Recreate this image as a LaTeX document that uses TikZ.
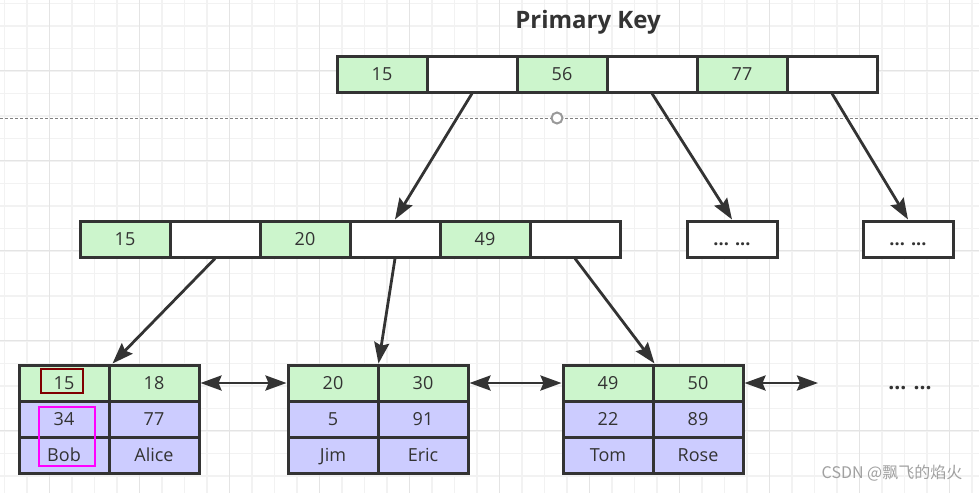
\documentclass[tikz,border=0pt]{standalone}
\usepackage{fontspec}
\setmainfont{Open Sans}
\newfontfamily\cjkfont{Noto Sans CJK SC}
\usetikzlibrary{arrows.meta,calc}
\definecolor{keygreen}{HTML}{CCF5CC}
\definecolor{rowblue}{HTML}{CCCCFF}
\definecolor{ink}{HTML}{333333}
\definecolor{gridminor}{HTML}{F2F2F2}
\definecolor{gridmajor}{HTML}{E4E4E4}
\definecolor{darkred}{HTML}{800000}
\definecolor{hlmagenta}{HTML}{FF00FF}
\definecolor{wmark}{HTML}{A0A0A0}
\begin{document}
\begin{tikzpicture}[x=1pt,y=-1pt,
  cell/.style={draw=ink,line width=3pt,minimum width=90pt,minimum height=36pt,inner sep=0pt,
    text height=14pt,text depth=2pt,
    font=\fontsize{18}{20}\selectfont,text=ink},
  keycell/.style={cell,fill=keygreen},
  ptrcell/.style={cell,fill=white},
  rowcell/.style={cell,fill=rowblue},
  tip/.tip={Stealth[length=21pt,width=15pt,inset=3pt]},
  arr/.style={draw=ink,line width=2.8pt,-tip},
  link/.style={draw=ink,line width=2.8pt,tip-tip},
  dots/.style={font=\fontsize{21}{23}\selectfont\bfseries,text=ink,inner sep=0pt},
]
\useasboundingbox (0,0) rectangle (979,493);
\fill[white] (0,0) rectangle (979,493);
% background grid
\foreach \x in {4.7,27.2,...,979} \draw[gridminor,line width=1.5pt] (\x,0) -- (\x,493);
\foreach \y in {3.3,25.8,...,493} \draw[gridminor,line width=1.5pt] (0,\y) -- (979,\y);
\foreach \x in {49.7,139.7,...,979} \draw[gridmajor,line width=1.5pt] (\x,0) -- (\x,493);
\foreach \y in {70.3,160.3,...,493} \draw[gridmajor,line width=1.5pt] (0,\y) -- (979,\y);
% editor guide
\draw[gray,line width=1pt,dash pattern=on 3pt off 2pt] (0,118) -- (979,118);
\draw[gray!80,line width=2pt,fill=white] (557,118) circle (5.5);

% title
\node[font=\fontsize{24}{26}\selectfont\bfseries,text=ink] (title) at (588,22) {Primary Key};

% root
\node[keycell] (r1) at (382,74) {15};
\node[ptrcell] (r2) at (472,74) {};
\node[keycell] (r3) at (562,74) {56};
\node[ptrcell] (r4) at (652,74) {};
\node[keycell] (r5) at (742,74) {77};
\node[ptrcell] (r6) at (832,74) {};

% middle level
\node[keycell] (m1) at (125,239) {15};
\node[ptrcell] (m2) at (215,239) {};
\node[keycell] (m3) at (305,239) {20};
\node[ptrcell] (m4) at (395,239) {};
\node[keycell] (m5) at (485,239) {49};
\node[ptrcell] (m6) at (575,239) {};
\node[ptrcell] (d1) at (732,239) {\textbf{... ...}};
\node[ptrcell] (d2) at (908,239) {\textbf{... ...}};

% leaves
\node[keycell] (a11) at (64,383) {15};
\node[keycell] (a12) at (154,383) {18};
\node[rowcell] (a21) at (64,419) {34};
\node[rowcell] (a22) at (154,419) {77};
\node[rowcell] (a31) at (64,455) {Bob};
\node[rowcell] (a32) at (154,455) {Alice};

\node[keycell] (b11) at (333,383) {20};
\node[keycell] (b12) at (423,383) {30};
\node[rowcell] (b21) at (333,419) {5};
\node[rowcell] (b22) at (423,419) {91};
\node[rowcell] (b31) at (333,455) {Jim};
\node[rowcell] (b32) at (423,455) {Eric};

\node[keycell] (c11) at (608,383) {49};
\node[keycell] (c12) at (698,383) {50};
\node[rowcell] (c21) at (608,419) {22};
\node[rowcell] (c22) at (698,419) {89};
\node[rowcell] (c31) at (608,455) {Tom};
\node[rowcell] (c32) at (698,455) {Rose};

\node[dots] (more) at (910,388) {... ...};
\coordinate (linkend) at (818,383);

% highlight boxes
\draw[darkred,line width=2.8pt] (41,369) rectangle (83,393);
\draw[hlmagenta,line width=2.8pt] (39,407) rectangle (95,466);

% tree pointers
\draw[arr] (r2.south) -- (m4.north);
\draw[arr] (r4.south) -- (d1.north);
\draw[arr] (r6.south) -- (d2.north);
\draw[arr] (m2.south) -- ($(a12.north west)+(5,0)$);
\draw[arr] (m4.south) -- ($(b12.north west)+(2,0)$);
\draw[arr] (m6.south) -- ($(c12.north west)+(3,0)$);

% leaf links
\draw[link] (a12.east) -- (b11.west);
\draw[link] (b12.east) -- (c11.west);
\draw[link] (c12.east) -- (linkend);

% watermark
\node[text=wmark,font=\cjkfont\fontsize{16}{18}\selectfont,inner sep=0pt] (wm) at (892,473) {CSDN @飘飞的焰火};
\end{tikzpicture}
\end{document}
